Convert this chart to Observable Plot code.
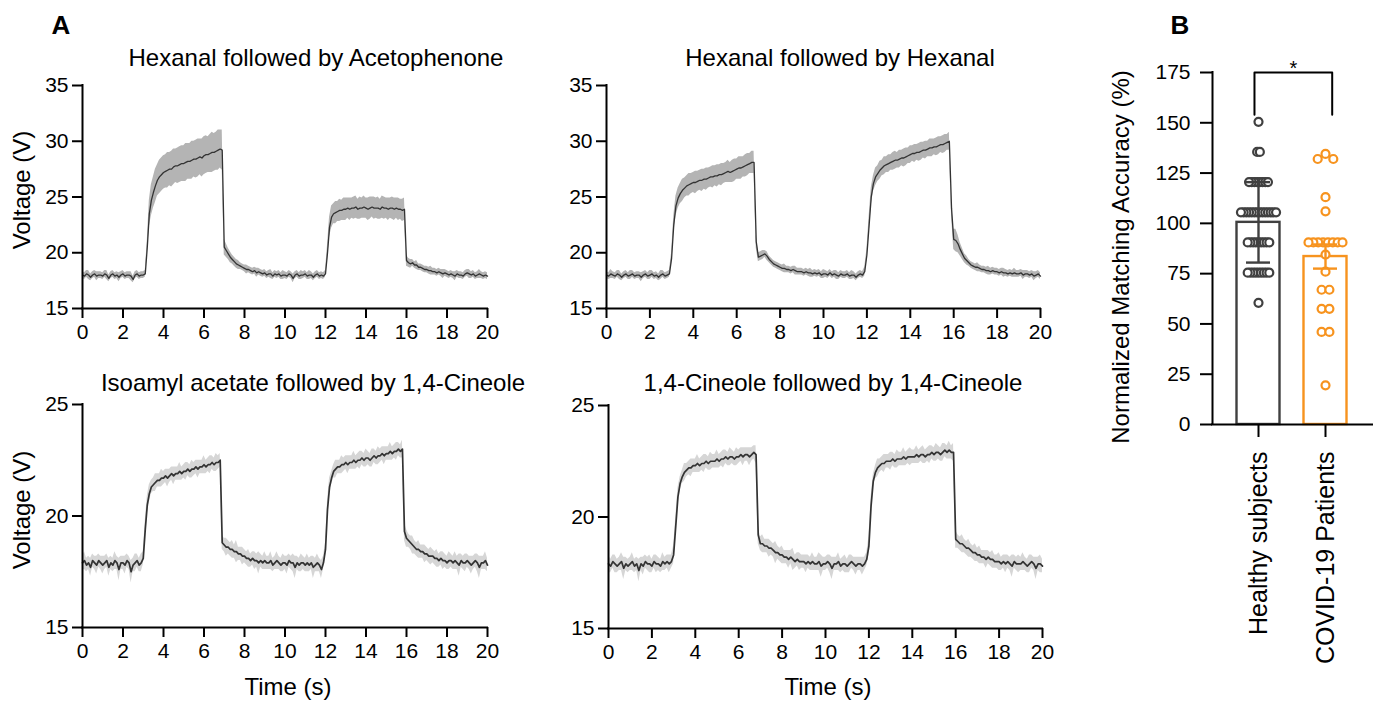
<!DOCTYPE html>
<html><head><meta charset="utf-8">
<script src="https://cdn.jsdelivr.net/npm/d3@7"></script>
<script src="https://cdn.jsdelivr.net/npm/@observablehq/plot@0.6"></script>
<style>
html,body{margin:0;padding:0;background:#fff;}
#root{position:relative;width:1376px;height:704px;overflow:hidden;background:#fff;font-family:"Liberation Sans",Arial,Helvetica,sans-serif;color:#000;}
#root svg{position:absolute;left:0;top:0;overflow:visible;}
.lbl{position:absolute;white-space:nowrap;transform:translate(-50%,-50%);font-size:24px;line-height:1;}
.rot{transform:translate(-50%,-50%) rotate(-90deg);}
.letter{font-weight:bold;font-size:26px;}
</style></head><body><div id="root"></div>
<script>
// ---------- Panel A data (sampled every 0.1 s, 0..20 s) ----------
const SAMPLE_STEP_S = 0.1;
const timeTicks = [0,2,4,6,8,10,12,14,16,18,20];
const topVoltTicks = [15,20,25,30,35];
const bottomVoltTicks = [15,20,25];
const panelTitles = ["Hexanal followed by Acetophenone","Hexanal followed by Hexanal","Isoamyl acetate followed by 1,4-Cineole","1,4-Cineole followed by 1,4-Cineole"];

const hexAcetoMean = [
18.0,17.9,18.1,18.0,17.8,18.0,18.1,17.9,18.0,18.0,
17.9,18.1,18.0,17.7,18.0,18.1,17.9,18.0,17.8,18.0,
18.1,17.9,18.0,18.0,17.9,17.6,18.0,18.1,17.9,18.0,
18.0,18.1,20.5,23.5,24.7,25.4,26.0,26.5,26.8,27.0,
27.2,27.3,27.4,27.5,27.5,27.7,27.8,27.8,27.9,28.0,
28.0,28.1,28.2,28.2,28.3,28.4,28.4,28.5,28.6,28.5,
28.7,28.8,28.8,28.9,29.0,29.0,29.1,29.2,29.3,29.2,
20.5,20.2,19.9,19.6,19.4,19.2,19.0,18.9,18.8,18.7,
18.6,18.5,18.5,18.4,18.3,18.4,18.2,18.3,18.2,18.1,
18.2,18.0,18.1,18.1,17.9,18.1,18.0,18.1,17.9,18.0,
18.0,17.9,18.1,18.0,17.7,18.0,18.1,17.9,18.0,18.0,
18.1,17.9,18.0,18.0,17.8,18.0,18.1,17.9,18.0,17.9,
18.1,20.0,22.3,23.2,23.5,23.6,23.7,23.8,23.8,23.9,
23.9,24.0,23.9,24.0,24.0,24.1,23.9,24.0,24.0,24.1,
24.0,23.9,24.0,24.1,24.0,24.0,24.0,23.9,24.1,24.0,
24.0,23.9,24.0,24.0,23.9,24.0,23.9,23.9,23.8,23.9,
19.3,19.1,19.0,19.1,18.9,18.9,18.7,18.7,18.6,18.5,
18.5,18.4,18.4,18.3,18.3,18.2,18.3,18.2,18.1,18.2,
18.1,18.0,18.1,18.0,17.9,18.1,18.0,18.0,17.9,18.1,
18.2,18.1,18.0,18.1,17.9,18.0,18.1,18.0,17.9,18.0,
17.9];
const hexAcetoSpread = [
0.3,0.3,0.3,0.4,0.3,0.3,0.3,0.4,0.3,0.3,
0.3,0.3,0.4,0.3,0.3,0.3,0.3,0.3,0.4,0.3,
0.3,0.3,0.3,0.3,0.4,0.3,0.3,0.3,0.3,0.3,
0.3,0.3,0.6,1.2,1.4,1.4,1.5,1.4,1.5,1.5,
1.5,1.5,1.6,1.5,1.6,1.6,1.5,1.6,1.6,1.6,
1.6,1.7,1.6,1.6,1.7,1.6,1.7,1.7,1.6,1.7,
1.7,1.7,1.6,1.7,1.8,1.7,1.7,1.8,1.7,1.8,
0.7,0.6,0.5,0.5,0.4,0.4,0.4,0.4,0.3,0.3,
0.3,0.4,0.3,0.3,0.3,0.3,0.4,0.3,0.3,0.3,
0.3,0.3,0.3,0.4,0.3,0.3,0.3,0.3,0.3,0.4,
0.3,0.3,0.3,0.3,0.4,0.3,0.3,0.3,0.4,0.3,
0.3,0.3,0.4,0.3,0.3,0.3,0.3,0.3,0.3,0.3,
0.3,0.7,0.9,1.0,0.9,1.0,0.9,1.0,0.9,1.0,
1.0,0.9,1.0,0.9,1.0,1.0,0.9,1.0,0.9,1.0,
0.9,1.0,1.0,0.9,1.0,0.9,1.0,0.9,1.0,1.0,
0.9,1.0,0.9,1.0,1.0,0.9,1.0,0.9,1.0,1.0,
0.5,0.4,0.4,0.3,0.3,0.4,0.3,0.3,0.3,0.3,
0.3,0.3,0.4,0.3,0.3,0.3,0.3,0.3,0.4,0.3,
0.3,0.3,0.3,0.3,0.4,0.3,0.3,0.3,0.3,0.3,
0.3,0.4,0.3,0.3,0.3,0.3,0.4,0.3,0.3,0.3,
0.3];

const hexHexMean = [
18.0,17.9,18.1,18.0,17.9,18.1,18.0,17.8,18.0,18.1,
17.9,18.0,18.1,17.9,18.0,18.0,17.8,18.0,18.1,17.9,
18.0,18.1,17.9,18.0,17.8,18.0,18.1,17.9,18.0,18.1,
19.5,22.5,24.2,24.9,25.3,25.6,25.8,26.0,26.1,26.2,
26.3,26.3,26.4,26.5,26.5,26.6,26.6,26.7,26.8,26.8,
26.9,26.9,27.0,27.0,27.1,27.2,27.3,27.2,27.3,27.4,
27.5,27.6,27.6,27.7,27.8,27.9,28.0,28.1,28.1,21.0,
19.6,19.7,19.8,19.9,19.7,19.4,19.2,19.0,18.9,18.8,
18.7,18.6,18.6,18.5,18.5,18.4,18.5,18.4,18.3,18.3,
18.3,18.2,18.3,18.2,18.2,18.1,18.2,18.1,18.2,18.0,
18.1,18.1,18.0,18.2,18.0,18.1,18.0,17.9,18.1,18.0,
18.0,18.1,17.9,18.0,18.0,17.8,18.0,18.1,18.0,18.3,
19.8,22.4,25.0,26.2,26.8,27.1,27.4,27.6,27.8,27.9,
28.0,28.1,28.2,28.3,28.3,28.4,28.5,28.5,28.6,28.7,
28.8,28.9,28.9,29.0,29.0,29.1,29.2,29.2,29.3,29.4,
29.4,29.5,29.5,29.6,29.7,29.7,29.8,29.9,30.0,24.0,
21.2,21.1,20.8,20.3,19.9,19.5,19.3,19.1,18.9,18.8,
18.7,18.7,18.6,18.5,18.5,18.4,18.4,18.3,18.4,18.3,
18.3,18.2,18.3,18.2,18.2,18.1,18.2,18.1,18.2,18.1,
18.1,18.2,18.0,18.1,18.1,18.0,18.1,17.9,18.0,18.1,
17.9];
const hexHexSpread = [
0.3,0.3,0.4,0.3,0.3,0.3,0.4,0.3,0.3,0.3,
0.3,0.4,0.3,0.3,0.3,0.3,0.4,0.3,0.3,0.3,
0.4,0.3,0.3,0.3,0.3,0.4,0.3,0.3,0.3,0.3,
0.5,0.8,0.9,0.9,0.9,1.0,0.9,0.9,1.0,0.9,
0.9,1.0,0.9,0.9,1.0,0.9,1.0,0.9,0.9,1.0,
0.9,1.0,0.9,1.0,0.9,0.9,1.0,0.9,1.0,1.0,
0.9,1.0,1.0,0.9,1.0,1.0,0.9,1.0,1.0,0.6,
0.4,0.4,0.4,0.3,0.4,0.3,0.3,0.3,0.3,0.3,
0.3,0.3,0.4,0.3,0.3,0.3,0.3,0.4,0.3,0.3,
0.3,0.3,0.3,0.3,0.4,0.3,0.3,0.3,0.3,0.3,
0.4,0.3,0.3,0.3,0.3,0.3,0.4,0.3,0.3,0.3,
0.3,0.3,0.3,0.4,0.3,0.3,0.3,0.3,0.3,0.4,
0.5,0.8,0.8,0.7,0.8,0.7,0.8,0.7,0.8,0.7,
0.8,0.7,0.8,0.8,0.7,0.8,0.7,0.8,0.8,0.7,
0.8,0.7,0.8,0.7,0.8,0.8,0.7,0.8,0.7,0.8,
0.8,0.7,0.8,0.8,0.7,0.8,0.8,0.7,0.8,0.6,
0.9,1.0,0.8,0.6,0.5,0.4,0.4,0.3,0.3,0.3,
0.3,0.4,0.3,0.3,0.3,0.3,0.4,0.3,0.3,0.3,
0.3,0.3,0.3,0.4,0.3,0.3,0.3,0.3,0.4,0.3,
0.3,0.3,0.4,0.3,0.3,0.3,0.3,0.4,0.3,0.3,
0.3];

const isoCinMean = [
17.9,18.0,17.8,17.9,17.7,18.0,17.9,17.8,18.0,17.9,
17.8,17.9,18.0,17.7,17.9,17.8,18.0,17.9,17.6,17.9,
17.9,17.8,18.0,17.9,17.5,17.8,17.9,18.0,17.8,17.9,
18.1,19.4,20.5,21.0,21.3,21.4,21.5,21.6,21.6,21.7,
21.7,21.8,21.7,21.8,21.9,21.8,21.9,21.9,22.0,21.9,
22.0,22.0,22.1,22.0,22.1,22.1,22.2,22.1,22.2,22.2,
22.3,22.2,22.3,22.3,22.4,22.3,22.4,22.4,22.5,18.8,
18.7,18.6,18.6,18.5,18.5,18.4,18.4,18.3,18.3,18.2,
18.2,18.1,18.1,18.0,18.1,18.0,18.0,17.9,18.0,17.9,
18.0,17.9,17.9,18.0,17.8,17.9,18.0,17.9,17.8,17.9,
17.9,17.8,18.0,17.9,17.9,17.7,17.9,17.8,17.9,17.9,
17.8,17.9,17.8,17.9,17.7,17.8,17.9,17.8,17.6,17.9,
18.5,20.3,21.3,21.7,22.0,22.1,22.2,22.2,22.3,22.3,
22.4,22.3,22.4,22.4,22.5,22.4,22.5,22.5,22.6,22.5,
22.6,22.6,22.5,22.6,22.7,22.6,22.7,22.7,22.8,22.7,
22.8,22.8,22.9,22.8,22.9,22.9,23.0,22.9,23.0,19.3,
19.0,18.9,18.8,18.7,18.6,18.5,18.5,18.4,18.4,18.3,
18.3,18.2,18.2,18.2,18.1,18.1,18.0,18.1,18.0,18.0,
17.9,18.0,18.0,17.9,18.0,17.9,17.8,18.0,17.9,17.9,
18.0,17.9,17.8,17.9,18.0,17.9,17.7,17.9,17.9,18.0,
17.8];
const isoCinSpread = [
0.3,0.4,0.3,0.3,0.4,0.3,0.3,0.4,0.3,0.3,
0.4,0.3,0.3,0.4,0.3,0.3,0.4,0.3,0.5,0.3,
0.3,0.4,0.3,0.3,0.5,0.3,0.4,0.3,0.3,0.4,
0.3,0.4,0.4,0.4,0.3,0.3,0.4,0.3,0.3,0.4,
0.3,0.3,0.4,0.3,0.3,0.4,0.3,0.3,0.4,0.3,
0.3,0.4,0.3,0.3,0.4,0.3,0.3,0.4,0.3,0.3,
0.4,0.3,0.3,0.4,0.3,0.3,0.4,0.3,0.3,0.3,
0.3,0.4,0.3,0.3,0.4,0.3,0.5,0.3,0.3,0.4,
0.3,0.3,0.4,0.3,0.3,0.4,0.3,0.5,0.3,0.3,
0.4,0.3,0.3,0.4,0.3,0.3,0.4,0.3,0.3,0.4,
0.3,0.4,0.3,0.3,0.4,0.5,0.3,0.3,0.4,0.3,
0.3,0.4,0.3,0.3,0.5,0.3,0.4,0.3,0.4,0.3,
0.3,0.4,0.4,0.3,0.3,0.4,0.3,0.3,0.4,0.3,
0.3,0.4,0.3,0.3,0.4,0.3,0.3,0.4,0.3,0.3,
0.4,0.3,0.3,0.4,0.3,0.3,0.4,0.3,0.3,0.4,
0.3,0.3,0.4,0.3,0.3,0.4,0.3,0.3,0.4,0.4,
0.4,0.3,0.3,0.4,0.3,0.3,0.4,0.3,0.3,0.4,
0.3,0.3,0.4,0.3,0.3,0.4,0.3,0.3,0.4,0.3,
0.3,0.4,0.3,0.3,0.4,0.3,0.5,0.3,0.3,0.4,
0.3,0.3,0.4,0.3,0.3,0.4,0.5,0.3,0.3,0.4,
0.3];

const cinCinMean = [
17.9,17.8,18.0,17.9,17.8,17.9,18.0,17.7,17.9,17.8,
17.9,18.0,17.8,17.9,17.6,17.9,17.8,18.0,17.9,17.9,
17.8,18.0,17.9,17.9,17.8,18.0,17.9,18.0,17.9,18.0,
18.3,19.6,20.9,21.5,21.8,22.0,22.1,22.2,22.2,22.3,
22.3,22.4,22.3,22.4,22.4,22.5,22.4,22.5,22.5,22.5,
22.6,22.5,22.6,22.6,22.7,22.6,22.7,22.7,22.6,22.7,
22.7,22.8,22.7,22.8,22.8,22.7,22.8,22.9,22.8,19.2,
18.8,18.8,18.7,18.7,18.6,18.6,18.5,18.4,18.4,18.3,
18.3,18.2,18.2,18.1,18.2,18.1,18.0,18.1,18.0,18.0,
18.0,17.9,18.0,17.9,18.0,17.9,17.9,18.0,17.8,17.9,
17.9,18.0,17.9,17.7,17.9,17.9,18.0,17.8,17.9,17.9,
17.8,17.9,18.0,17.9,17.8,17.9,17.9,17.8,17.9,18.1,
18.7,20.5,21.6,22.0,22.2,22.3,22.4,22.4,22.5,22.5,
22.5,22.6,22.5,22.6,22.6,22.6,22.7,22.6,22.7,22.7,
22.7,22.7,22.8,22.7,22.8,22.8,22.7,22.8,22.8,22.9,
22.8,22.9,22.9,22.8,22.9,23.0,22.9,23.0,22.9,22.9,
19.0,18.9,18.8,18.8,18.7,18.6,18.6,18.5,18.4,18.4,
18.3,18.3,18.2,18.2,18.1,18.2,18.1,18.1,18.0,18.0,
18.0,17.9,18.0,17.9,18.0,17.9,17.8,18.0,17.9,17.9,
17.9,18.0,17.9,17.8,17.9,18.0,17.9,17.7,17.9,17.9,
17.8];
const cinCinSpread = [
0.4,0.3,0.3,0.4,0.3,0.3,0.4,0.5,0.3,0.3,
0.3,0.4,0.3,0.3,0.5,0.3,0.4,0.3,0.3,0.4,
0.3,0.3,0.4,0.3,0.3,0.4,0.3,0.3,0.4,0.3,
0.4,0.4,0.4,0.3,0.3,0.4,0.3,0.3,0.4,0.3,
0.3,0.4,0.3,0.3,0.4,0.3,0.3,0.4,0.3,0.3,
0.4,0.3,0.3,0.4,0.3,0.3,0.4,0.3,0.3,0.4,
0.3,0.3,0.4,0.3,0.3,0.4,0.3,0.3,0.4,0.4,
0.3,0.4,0.3,0.3,0.4,0.3,0.3,0.5,0.3,0.3,
0.4,0.3,0.3,0.4,0.3,0.5,0.3,0.3,0.4,0.3,
0.3,0.4,0.3,0.3,0.4,0.3,0.3,0.4,0.5,0.3,
0.3,0.3,0.4,0.5,0.3,0.3,0.4,0.3,0.3,0.4,
0.3,0.4,0.3,0.3,0.4,0.3,0.3,0.4,0.3,0.3,
0.4,0.4,0.3,0.3,0.4,0.3,0.3,0.4,0.3,0.3,
0.4,0.3,0.3,0.4,0.3,0.3,0.4,0.3,0.3,0.4,
0.3,0.3,0.4,0.3,0.3,0.4,0.3,0.3,0.4,0.3,
0.3,0.4,0.3,0.3,0.4,0.3,0.3,0.4,0.3,0.4,
0.4,0.3,0.3,0.4,0.3,0.3,0.4,0.3,0.3,0.4,
0.3,0.4,0.3,0.3,0.4,0.3,0.3,0.4,0.3,0.3,
0.4,0.3,0.3,0.4,0.3,0.3,0.5,0.3,0.3,0.4,
0.3,0.4,0.3,0.3,0.4,0.3,0.3,0.5,0.3,0.4,
0.3];

// ---------- Panel B data ----------
const groups = ["Healthy subjects","COVID-19 Patients"];
const healthyScores = [150.5,135.5,135.5,
 120.5,120.5,120.5,120.5,120.5,120.5,120.5,120.5,
 105.5,105.5,105.5,105.5,105.5,105.5,105.5,105.5,105.5,105.5,105.5,105.5,105.5,105.5,
 90.5,90.5,90.5,90.5,90.5,90.5,90.5,90.5,90.5,
 75.5,75.5,75.5,75.5,75.5,75.5,75.5,75.5,75.5,
 60.5];
const covidScores = [134.5,132,132,113,106,
 90.5,90.5,90.5,90.5,90.5,90.5,90.5,90.5,
 84.5,76,67,67,57.5,57.5,46,46,19.5];
const groupMeans = [100.5, 83.5];
const groupErrors = [20, 6];
const accuracyTicks = [0,25,50,75,100,125,150,175];
const sigLabel = "*";

// ---------- layout / style ----------
const FONT = '"Liberation Sans", Arial, Helvetica, sans-serif';
const root = document.getElementById("root");
const styleBase = {fontFamily: FONT, fontSize: "21px", color: "#000", background: "transparent", overflow: "visible"};

function trace(mean, spread, spec) {
  const rows = mean.map((v, i) => ({t: +(i * SAMPLE_STEP_S).toFixed(2), v, lo: v - spread[i], hi: v + spread[i]}));
  const W = spec.x1 + 40, H = spec.y1 + 60;
  return Plot.plot({
    width: W, height: H,
    marginLeft: spec.x0, marginRight: W - spec.x1, marginTop: spec.y0, marginBottom: H - spec.y1,
    x: {domain: [0, 20]},
    y: {domain: spec.yDomain},
    style: styleBase,
    marks: [
      Plot.areaY(rows, {x: "t", y1: "lo", y2: "hi", fill: spec.band}),
      Plot.line(rows, {x: "t", y: "v", stroke: "#333", strokeWidth: spec.lw}),
      Plot.axisX({ticks: timeTicks, tickSize: 10, tickPadding: 6, strokeWidth: 2, label: null, fontSize: 21, tickFormat: d => String(d)}),
      Plot.axisY({ticks: spec.ticks, tickSize: 10, tickPadding: 4, strokeWidth: 2, label: null, fontSize: 21}),
      Plot.ruleX([0], {stroke: "#000", strokeWidth: 2, strokeLinecap: "square"}),
      Plot.ruleY([spec.yDomain[0]], {stroke: "#000", strokeWidth: 2, strokeLinecap: "square"})
    ]
  });
}

const traceSpecs = [
  {mean: hexAcetoMean, spread: hexAcetoSpread, x0: 82, x1: 487, y0: 85, y1: 308, yDomain: [15, 35], ticks: topVoltTicks, band: "#b4b4b4", lw: 1.3},
  {mean: hexHexMean, spread: hexHexSpread, x0: 606, x1: 1040, y0: 85, y1: 308, yDomain: [15, 35], ticks: topVoltTicks, band: "#b4b4b4", lw: 1.3},
  {mean: isoCinMean, spread: isoCinSpread, x0: 82, x1: 487, y0: 404, y1: 627, yDomain: [15, 25], ticks: bottomVoltTicks, band: "#d6d6d6", lw: 1.7},
  {mean: cinCinMean, spread: cinCinSpread, x0: 608, x1: 1042, y0: 405, y1: 628, yDomain: [15, 25], ticks: bottomVoltTicks, band: "#d6d6d6", lw: 1.7}
];
for (const s of traceSpecs) root.appendChild(trace(s.mean, s.spread, s));

// ---------- Panel B ----------
const bx0 = 1212, bx1 = 1372, catPx0 = 1258, catGapPx = 67;
const xDom = [(bx0 - catPx0) / catGapPx, 1 + (bx1 - catPx0 - catGapPx) / catGapPx];
const colors = ["#404040", "#f7931e"];

function swarm(values, gi) {
  const sorted = values.slice().sort((a, b) => b - a);
  const rows = [];
  for (const v of sorted) {
    const r = rows[rows.length - 1];
    if (r && r[0] - v < 3) r.push(v); else rows.push([v]);
  }
  const out = [];
  for (const r of rows) {
    const n = r.length;
    const step = gi === 0 ? 2.7 : Math.min(7.8, 34 / Math.max(1, n - 1));
    const slots = d3.range(n).map(k => (k - (n - 1) / 2) * step)
      .sort((a, b) => Math.abs(a) - Math.abs(b) || a - b);
    r.forEach((v, k) => out.push({x: gi + slots[k] / catGapPx, y: v}));
  }
  return out;
}
const dotsH = swarm(healthyScores, 0), dotsC = swarm(covidScores, 1);
const halfBar = 21.5 / catGapPx, halfCap = 12 / catGapPx;
const barMarks = [], errMarks = [];
groups.forEach((g, i) => {
  const m = groupMeans[i], e = groupErrors[i];
  barMarks.push(Plot.rect([{i, m}], {x1: d => d.i - halfBar, x2: d => d.i + halfBar, y1: 0, y2: "m", fill: "none", stroke: colors[i], strokeWidth: 2.4}));
  errMarks.push(Plot.ruleX([{i, lo: m - e, hi: m + e}], {x: "i", y1: "lo", y2: "hi", stroke: colors[i], strokeWidth: 2.4}));
  errMarks.push(Plot.ruleY([m - e, m + e], {y: d => d, x1: i - halfCap, x2: i + halfCap, stroke: colors[i], strokeWidth: 2.4}));
});
const sigL = 0 - 0.06, sigR = 1 + 0.1, sigTop = 175, sigLeg = 154;
const bracket = [{x: sigL, y: sigLeg}, {x: sigL, y: sigTop}, {x: sigR, y: sigTop}, {x: sigR, y: sigLeg}];

const plotB = Plot.plot({
  width: 1376, height: 704,
  marginLeft: bx0, marginRight: 1376 - bx1, marginTop: 72, marginBottom: 704 - 424,
  x: {domain: xDom},
  y: {domain: [0, 175]},
  style: styleBase,
  marks: [
    ...barMarks,
    Plot.dot(dotsH, {x: "x", y: "y", r: 4, fill: "#fff", stroke: colors[0], strokeWidth: 2.2}),
    Plot.dot(dotsC, {x: "x", y: "y", r: 4, fill: "#fff", stroke: colors[1], strokeWidth: 2.2}),
    ...errMarks,
    Plot.line(bracket, {x: "x", y: "y", stroke: "#000", strokeWidth: 2}),
    Plot.text([sigLabel], {x: (sigL + sigR) / 2, y: sigTop, dy: -4, text: d => d, fontSize: 20}),
    Plot.axisY({ticks: accuracyTicks, tickSize: 12, tickPadding: 10, strokeWidth: 2, label: null, fontSize: 21}),
    Plot.axisX({ticks: [0, 1], tickFormat: i => groups[i], tickRotate: -90, tickSize: 13, tickPadding: 14, strokeWidth: 2, label: null, fontSize: 25}),
    Plot.ruleX([xDom[0]], {stroke: "#000", strokeWidth: 2, strokeLinecap: "square"}),
    Plot.ruleY([0], {stroke: "#000", strokeWidth: 2, strokeLinecap: "square"})
  ]
});
root.appendChild(plotB);

// ---------- HTML text ----------
function label(txt, cx, cy, cls) {
  const d = document.createElement("div");
  d.className = "lbl" + (cls ? " " + cls : "");
  d.textContent = txt;
  d.style.left = cx + "px";
  d.style.top = cy + "px";
  root.appendChild(d);
}
label("A", 61, 25, "letter");
label("B", 1180, 25, "letter");
label(panelTitles[0], 316, 58);
label(panelTitles[1], 840, 58);
label(panelTitles[2], 313, 383);
label(panelTitles[3], 833, 383);
label("Voltage (V)", 22, 190, "rot");
label("Voltage (V)", 22, 510, "rot");
label("Time (s)", 288, 687);
label("Time (s)", 828, 687);
label("Normalized Matching Accuracy (%)", 1121, 257, "rot");
</script></body></html>
